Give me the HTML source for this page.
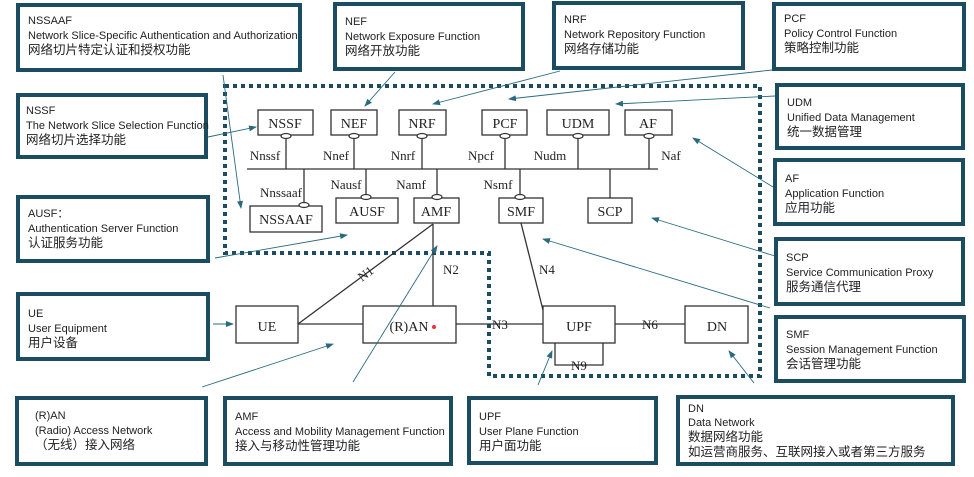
<!DOCTYPE html>
<html><head><meta charset="utf-8"><style>
html,body{margin:0;padding:0;background:#fff;}
body{width:974px;height:477px;position:relative;overflow:hidden;font-family:"Liberation Sans","Noto Sans CJK SC",sans-serif;}
.c{position:absolute;box-sizing:border-box;border:4px solid #1b4c62;background:#fff;font-size:11px;line-height:14.5px;color:#222;padding:7px 0 0 8px;white-space:nowrap;}
.c .z{font-size:12.5px;line-height:15px;}
svg{position:absolute;left:0;top:0;}
</style></head><body>
<svg width="974" height="477" viewBox="0 0 974 477">
<defs><marker id="a" markerWidth="8" markerHeight="8" refX="7" refY="4" orient="auto" markerUnits="userSpaceOnUse"><path d="M0,1 L8,4 L0,7 z" fill="#2a6a80"/></marker></defs>
<g fill="none" stroke="#1b4c62" stroke-width="4" stroke-dasharray="4,4">
<path d="M225,86 H760 V376 H489 V253 H225 Z"/>
</g>
<g stroke="#333" stroke-width="1.3" fill="#fff" font-family="Liberation Serif,serif" font-size="14">
<line x1="247" y1="169" x2="658" y2="169"/>
<line x1="286" y1="135" x2="286" y2="169"/><line x1="354" y1="135" x2="354" y2="169"/><line x1="422" y1="135" x2="422" y2="169"/><line x1="505" y1="135" x2="505" y2="169"/><line x1="578" y1="135" x2="578" y2="169"/><line x1="649" y1="135" x2="649" y2="169"/>
<line x1="304" y1="169" x2="304" y2="206"/><line x1="366" y1="169" x2="366" y2="198"/><line x1="437" y1="169" x2="437" y2="198"/><line x1="520" y1="169" x2="520" y2="198"/><line x1="610" y1="169" x2="610" y2="198"/>
<rect x="258" y="110" width="55" height="25"/><rect x="331" y="110" width="46" height="25"/><rect x="399" y="110" width="47" height="25"/><rect x="482" y="110" width="45" height="25"/><rect x="547" y="110" width="62" height="25"/><rect x="625" y="110" width="47" height="25"/>
<rect x="250" y="206" width="72" height="26"/><rect x="336" y="198" width="62" height="25"/><rect x="414" y="198" width="45" height="25"/><rect x="499" y="198" width="44" height="25"/><rect x="588" y="198" width="44" height="25"/>
<g stroke-width="1.2"><ellipse cx="286" cy="136" rx="5" ry="2.5"/><ellipse cx="354" cy="136" rx="5" ry="2.5"/><ellipse cx="422" cy="136" rx="5" ry="2.5"/><ellipse cx="505" cy="136" rx="5" ry="2.5"/><ellipse cx="578" cy="136" rx="5" ry="2.5"/><ellipse cx="649" cy="136" rx="5" ry="2.5"/>
<ellipse cx="304" cy="205" rx="5" ry="2.5"/><ellipse cx="366" cy="197" rx="5" ry="2.5"/><ellipse cx="437" cy="197" rx="5" ry="2.5"/><ellipse cx="520" cy="197" rx="5" ry="2.5"/></g>
<line x1="298" y1="324" x2="433" y2="224"/><line x1="433" y1="224" x2="433" y2="306"/><line x1="521" y1="223" x2="543" y2="310"/>
<line x1="298" y1="324" x2="363" y2="324"/><line x1="456" y1="324" x2="543" y2="324"/><line x1="615" y1="324" x2="685" y2="324"/>
<polyline points="555,343 555,365 603,365 603,343" fill="none"/>
<rect x="236" y="306" width="62" height="37"/><rect x="363" y="306" width="93" height="37"/><rect x="543" y="306" width="72" height="37"/><rect x="685" y="306" width="63" height="37"/>
<g stroke="none" fill="#222" text-anchor="middle">
<text x="285" y="128">NSSF</text><text x="354" y="128">NEF</text><text x="422" y="128">NRF</text><text x="505" y="128">PCF</text><text x="578" y="128">UDM</text><text x="648" y="128">AF</text>
<text x="286" y="224">NSSAAF</text><text x="367" y="216">AUSF</text><text x="436" y="216">AMF</text><text x="521" y="216">SMF</text><text x="610" y="216">SCP</text>
<text x="267" y="331">UE</text><text x="409" y="331">(R)AN</text><text x="579" y="331">UPF</text><text x="717" y="331">DN</text>
<g font-size="13"><text x="265" y="160">Nnssf</text><text x="336" y="160">Nnef</text><text x="403" y="160">Nnrf</text><text x="481" y="160">Npcf</text><text x="550" y="160">Nudm</text><text x="671" y="160">Naf</text>
<text x="281" y="197">Nnssaaf</text><text x="346" y="189">Nausf</text><text x="411" y="189">Namf</text><text x="498" y="189">Nsmf</text>
<text x="451" y="274">N2</text><text x="547" y="274">N4</text><text x="500" y="329" fill="#222">N3</text><text x="650" y="329">N6</text><text x="579" y="370">N9</text>
<text x="366" y="278" transform="rotate(-37 366 274)">N1</text></g>
</g>
<circle cx="434" cy="327" r="2" fill="#e33" stroke="none"/>
</g>
<g stroke="#2a6a80" stroke-width="0.9" fill="none" marker-end="url(#a)">
<line x1="395" y1="72" x2="365" y2="106"/><line x1="560" y1="71" x2="433" y2="104"/><line x1="772" y1="70" x2="509" y2="99"/><line x1="775" y1="96" x2="616" y2="104"/>
<line x1="773" y1="187" x2="693" y2="138"/><line x1="775" y1="256" x2="652" y2="218"/><line x1="770" y1="308" x2="543" y2="239"/>
<line x1="208" y1="137" x2="256" y2="127"/><line x1="223" y1="75" x2="241" y2="208"/><line x1="215" y1="258" x2="347" y2="235"/>
<line x1="213" y1="324" x2="233" y2="324"/><line x1="202" y1="387" x2="333" y2="344"/><line x1="353" y1="382" x2="437" y2="246"/>
<line x1="538" y1="385" x2="552" y2="351"/><line x1="754" y1="383" x2="729" y2="351"/>
</g>
</svg>
<div class="c" style="left:16px;top:3px;width:286px;height:69px;">NSSAAF<br>Network Slice-Specific Authentication and Authorization<br><span class="z">网络切片特定认证和授权功能</span></div>
<div class="c" style="left:16px;top:93px;width:192px;height:66px;padding-left:6px">NSSF<br>The Network Slice Selection Function<br><span class="z">网络切片选择功能</span></div>
<div class="c" style="left:16px;top:195px;width:194px;height:68px;padding-top:8px">AUSF：<br>Authentication Server Function<br><span class="z">认证服务功能</span></div>
<div class="c" style="left:16px;top:292px;width:194px;height:69px;padding-top:11px">UE<br>User Equipment<br><span class="z">用户设备</span></div>
<div class="c" style="left:15px;top:396px;width:193px;height:70px;padding-top:9px;padding-left:16px">(R)AN<br>(Radio) Access Network<br><span class="z">（无线）接入网络</span></div>
<div class="c" style="left:223px;top:396px;width:230px;height:70px;padding-top:10px">AMF<br>Access and Mobility Management Function<br><span class="z">接入与移动性管理功能</span></div>
<div class="c" style="left:467px;top:396px;width:191px;height:69px;padding-top:10px">UPF<br>User Plane Function<br><span class="z">用户面功能</span></div>
<div class="c" style="left:676px;top:395px;width:279px;height:71px;padding-top:3px;line-height:14px">DN<br>Data Network<br><span class="z">数据网络功能<br>如运营商服务、互联网接入或者第三方服务</span></div>
<div class="c" style="left:333px;top:2px;width:192px;height:69px;padding-top:9px">NEF<br>Network Exposure Function<br><span class="z">网络开放功能</span></div>
<div class="c" style="left:552px;top:1px;width:193px;height:69px;padding-top:8px">NRF<br>Network Repository Function<br><span class="z">网络存储功能</span></div>
<div class="c" style="left:772px;top:2px;width:194px;height:69px;padding-top:6px">PCF<br>Policy Control Function<br><span class="z">策略控制功能</span></div>
<div class="c" style="left:775px;top:83px;width:190px;height:67px;padding-top:9px">UDM<br>Unified Data Management<br><span class="z">统一数据管理</span></div>
<div class="c" style="left:773px;top:158px;width:192px;height:68px;padding-top:10px">AF<br>Application Function<br><span class="z">应用功能</span></div>
<div class="c" style="left:774px;top:237px;width:191px;height:69px;padding-top:10px">SCP<br>Service Communication Proxy<br><span class="z">服务通信代理</span></div>
<div class="c" style="left:774px;top:315px;width:192px;height:68px;padding-top:9px">SMF<br>Session Management Function<br><span class="z">会话管理功能</span></div>
</body></html>
